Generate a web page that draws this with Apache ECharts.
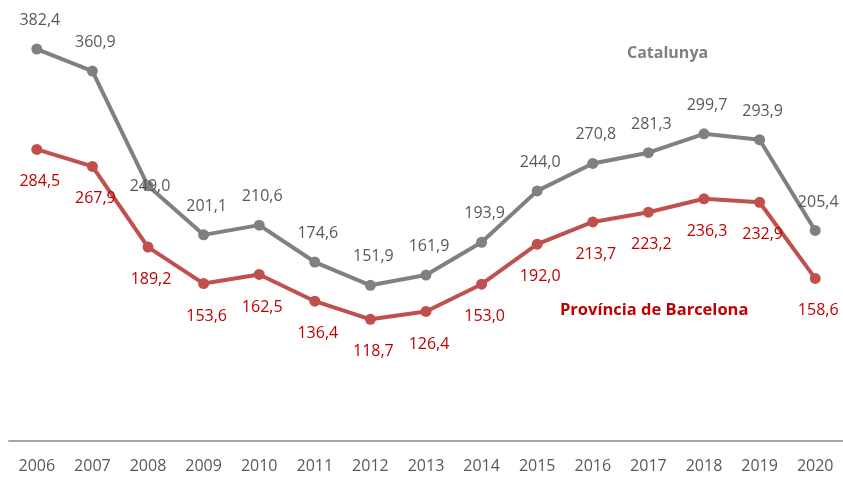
<!DOCTYPE html>
<html><head><meta charset="utf-8">
<script src="https://cdn.jsdelivr.net/npm/echarts@6/dist/echarts.min.js"></script>
<style>html,body{margin:0;padding:0;background:#fff}#c{width:843px;height:477px}</style>
</head><body><div id="c"></div>
<script>
const years = ['2006','2007','2008','2009','2010','2011','2012','2013','2014','2015','2016','2017','2018','2019','2020'];
const catalunya = [382.4,360.9,249.0,201.1,210.6,174.6,151.9,161.9,193.9,244.0,270.8,281.3,299.7,293.9,205.4];
const barcelona = [284.5,267.9,189.2,153.6,162.5,136.4,118.7,126.4,153.0,192.0,213.7,223.2,236.3,232.9,158.6];
const FONT = 'Open Sans';
const fmt = p => p.value.toFixed(1).replace('.', ',');
const catData = catalunya.map((v,i)=> i===2 ? {value:v,label:{position:'inside',offset:[2,1]}} : v);
const chart = echarts.init(document.getElementById('c'));
chart.setOption({
  animation:false,
  grid:{left:9,right:0,top:31,bottom:36},
  xAxis:{type:'category',data:years,boundaryGap:true,
    axisLine:{lineStyle:{color:'#a6a6a6',width:2}},axisTick:{show:false},
    axisLabel:{color:'#595959',fontSize:16,fontFamily:FONT,margin:17}},
  yAxis:{type:'value',min:0,max:400,show:false,splitLine:{show:false}},
  series:[
    {type:'line',data:catData,color:'#808080',lineStyle:{width:4,color:'#808080'},
     symbol:'circle',symbolSize:11,itemStyle:{color:'#808080'},
     label:{show:true,position:'top',distance:15,offset:[3,0],color:'#595959',fontSize:16,fontFamily:FONT,formatter:fmt}},
    {type:'line',data:barcelona,color:'#c0504d',lineStyle:{width:4,color:'#c0504d'},
     symbol:'circle',symbolSize:11,itemStyle:{color:'#c0504d'},
     label:{show:true,position:'bottom',distance:19,offset:[3,0],color:'#c00000',fontSize:16,fontFamily:FONT,formatter:fmt}}
  ],
  graphic:[
    {type:'text',left:627,top:45,style:{text:'Catalunya',fill:'#7f7f7f',font:'bold 16px "Open Sans"'}},
    {type:'text',left:560,top:302,style:{text:'Província de Barcelona',fill:'#c00000',font:'bold 16.5px "Open Sans"'}}
  ]
});
</script></body></html>
